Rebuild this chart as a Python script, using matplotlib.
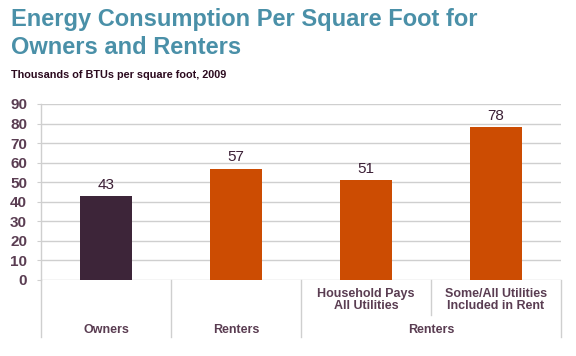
import matplotlib.pyplot as plt
from matplotlib.lines import Line2D

plt.rcParams['font.family'] = ['Liberation Sans', 'DejaVu Sans']

# data
values = [43, 57, 51, 78]
bar_colors = ['#3d2539', '#cc4c02', '#cc4c02', '#cc4c02']
sub_labels = ['', '', 'Household Pays\nAll Utilities', 'Some/All Utilities\nIncluded in Rent']
group_labels = ['Owners', 'Renters', 'Renters']
group_centers = [0, 1, 2.5]
yticks = list(range(0, 100, 10))
title_lines = ['Energy Consumption Per Square Foot for', 'Owners and Renters']

text_col = '#5a3d52'
grid_col = '#cfcfcf'

fig = plt.figure(figsize=(5.76, 3.56), dpi=100)
ax = fig.add_axes([0.0712, 0.2135, 0.9028, 0.4945])

x = list(range(len(values)))
ax.bar(x, values, width=0.4, color=bar_colors, zorder=3)
for xi, v in zip(x, values):
    ax.annotate(str(v), (xi, v), xytext=(0, 3), textcoords='offset points',
                ha='center', va='bottom', fontsize=11, color='#3b1f35')

ax.set_xlim(-0.5, 3.5)
ax.set_ylim(0, 90)
ax.set_yticks(yticks)
ax.set_yticklabels([str(t) for t in yticks], fontsize=11, fontweight='bold', color=text_col)
ax.tick_params(axis='y', length=3, color=grid_col, pad=7)
ax.set_xticks([])
ax.yaxis.grid(True, color=grid_col, linewidth=1, zorder=0)
ax.set_axisbelow(True)
for s in ['top', 'right', 'bottom']:
    ax.spines[s].set_visible(False)
ax.spines['left'].set_color(grid_col)
ax.spines['left'].set_linewidth(1)

tr = ax.get_xaxis_transform()
# separators below the axis
for xb, ybot in [(-0.5, -0.324), (0.5, -0.324), (1.5, -0.324), (2.5, -0.2), (3.5, -0.324)]:
    ax.add_line(Line2D([xb, xb], [0, ybot], transform=tr, color=grid_col,
                       linewidth=1, clip_on=False))

for xi, lab in zip(x, sub_labels):
    if lab:
        ax.text(xi, -0.115, lab, transform=tr, ha='center', va='center',
                fontsize=9, fontweight='bold', color=text_col, linespacing=1.0)
for xc, lab in zip(group_centers, group_labels):
    ax.text(xc, -0.284, lab, transform=tr, ha='center', va='center',
            fontsize=9, fontweight='bold', color=text_col)

for line, yb in zip(title_lines, [0.927, 0.848]):
    fig.text(0.019, yb, line, fontsize=17, fontweight='bold', color='#4a90a8',
             ha='left', va='baseline')
fig.text(0.019, 0.781, 'Thousands of BTUs per square foot, 2009',
         fontsize=7.8, fontweight='bold', color='#2b0a1e', ha='left', va='baseline')

fig.savefig('out.png', dpi=100)
